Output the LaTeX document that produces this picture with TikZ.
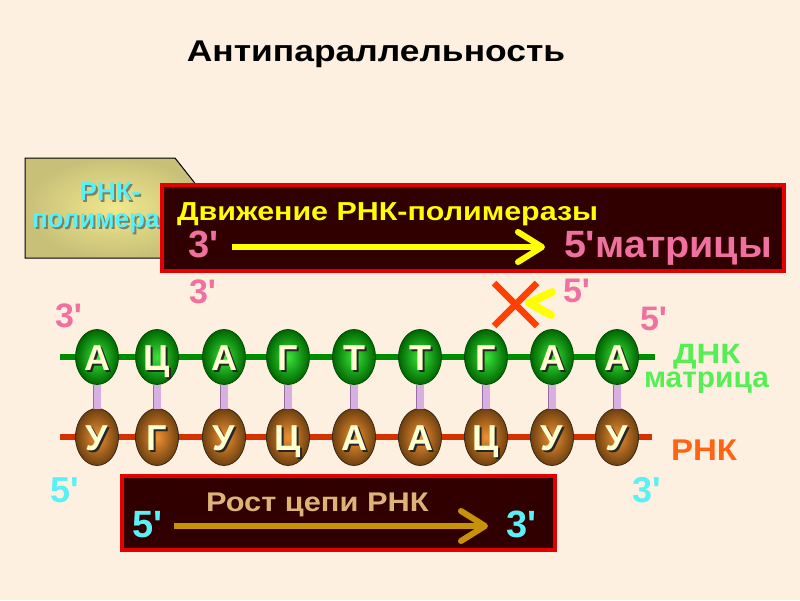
\documentclass[tikz,border=0pt]{standalone}
\usepackage{fontspec}
\newfontfamily\af{Liberation Sans}
\usetikzlibrary{arrows.meta,shapes.geometric}
\definecolor{bg}{RGB}{253,240,224}
\definecolor{pinkl}{RGB}{240,112,160}
\definecolor{cyanl}{RGB}{90,240,245}
\definecolor{yel}{RGB}{255,255,0}
\definecolor{gold}{RGB}{200,145,10}
\definecolor{tan}{RGB}{220,180,120}
\definecolor{boxred}{RGB}{228,0,0}
\definecolor{boxfill}{RGB}{48,0,0}
\definecolor{dnaline}{RGB}{0,140,0}
\definecolor{rnaline}{RGB}{210,50,0}
\definecolor{dnk}{RGB}{85,238,85}
\definecolor{rnk}{RGB}{255,100,20}
\definecolor{cream}{RGB}{255,255,210}
\definecolor{lav}{RGB}{215,175,225}
\definecolor{lavd}{RGB}{150,110,160}
\definecolor{xred}{RGB}{255,64,0}
\definecolor{khaki}{RGB}{200,192,120}
\definecolor{khakil}{RGB}{240,232,140}
\definecolor{cshadow}{RGB}{120,130,100}
\newcommand\fsz[1]{\fontsize{#1}{#1}\selectfont}
\newcommand\wide[2]{\scalebox{#1}[1]{#2}}
\begin{document}
\begin{tikzpicture}[x=1pt,y=-1pt,
  every node/.style={inner sep=0pt,outer sep=0pt},
  lbl/.style={anchor=base west,font=\af\bfseries\fsz{#1}},
  lbl/.default=34,
  darkbox/.style={draw=boxred,line width=4pt,fill=boxfill},
  dnab/.style={ellipse,minimum width=43pt,minimum height=55pt,draw=black!70!green,line width=0.8pt,inner color=green!75!white!90!black,outer color=green!40!black},
  rnab/.style={ellipse,minimum width=43pt,minimum height=57pt,draw=black!70!brown,line width=0.8pt,inner color={rgb,255:red,240;green,145;blue,50},outer color={rgb,255:red,110;green,65;blue,15}},
  base/.style={anchor=base,font=\af\bfseries\fsz{36}},
  bond/.style={line width=7pt,draw=lav,preaction={draw=lavd,line width=8.6pt}},
  strand/.style={line width=6pt},
  ytip/.style={-{Straight Barb[length=24pt,width=30pt,round]}}
]
\useasboundingbox (0,0) rectangle (800,600);
\fill[bg] (0,0) rectangle (800,600);

% title
\node[anchor=base,font=\af\bfseries\fsz{30}] (title) at (376,61) {\wide{1.18}{Антипараллельность}};

% RNA polymerase block
\draw[black,line width=1pt,inner color=khakil,outer color=khaki] (25,158) -- (175,158) -- (205,196) -- (205,258) -- (25,258) -- cycle;
\node[anchor=base,font=\af\bfseries\fsz{26},text=cshadow] at (112,202) {РНК-};
\node[anchor=base,font=\af\bfseries\fsz{26},text=cyanl] (pol1) at (110,200) {РНК-};
\node[anchor=base west,font=\af\bfseries\fsz{26},text=cshadow] at (34,229) {полимераза};
\node[anchor=base west,font=\af\bfseries\fsz{26},text=cyanl] (pol2) at (32,227) {полимераза};

% pink labels partly under the box
\node[lbl,text=pinkl] (p3b) at (189,303) {3'};
\node[lbl,text=pinkl] (p5b) at (563,302) {5'};

% movement box
\node[darkbox,anchor=north west,minimum width=622pt,minimum height=86pt] (mbox) at (162,185) {};
\node[lbl=26,text=yel] (mtitle) at (177,220) {\wide{1.17}{Движение РНК-полимеразы}};
\node[lbl=38,text=pinkl] (m3) at (188,257) {3'};
\node[lbl=38,text=pinkl] (m5) at (564,257) {\wide{1.04}{5'матрицы}};
\coordinate (ya) at (232,247);
\coordinate (yb) at (545,247);
\draw[ytip,draw=yel,line width=6pt] (ya) -- (yb);

% X and small chevron
\coordinate (xa) at (494,283); \coordinate (xb) at (537,326);
\coordinate (xc) at (537,283); \coordinate (xd) at (494,326);
\draw[xred,line width=6.5pt] (xa) -- (xb);
\draw[xred,line width=6.5pt] (xc) -- (xd);
\coordinate (ca) at (552,292); \coordinate (cb) at (529,303); \coordinate (cc) at (551,315);
\draw[yel,line width=8pt,line cap=round,line join=round] (ca) -- (cb) -- (cc);

% end labels
\node[lbl,text=pinkl] (l3) at (55,327) {3'};
\node[lbl,text=pinkl] (r5) at (640,330) {5'};

% strands
\coordinate (gl) at (60,357); \coordinate (gr) at (655,357);
\coordinate (rl) at (60,437); \coordinate (rr) at (652,437);
\draw[strand,dnaline] (gl) -- (gr);
\draw[strand,rnaline] (rl) -- (rr);

\foreach \x/\a/\b [count=\i] in {97/А/У,157/Ц/Г,224/А/У,288/Г/Ц,354/Т/А,420/Т/А,486/Г/Ц,552/А/У,617/А/У}{
  \node[dnab] (d\i) at (\x,357) {};
  \node[rnab] (r\i) at (\x,437) {};
  \draw[bond] (d\i.south) -- (r\i.north);
  \node[base,text=black!85] at (\x+2,372) {\a};
  \node[base,text=cream] (da\i) at (\x,370) {\a};
  \node[base,text=black!85] at (\x+2,452) {\b};
  \node[base,text=cream] (rb\i) at (\x,450) {\b};
}

\node[lbl=28,text=dnk] (dnk1) at (673,363) {\wide{1.18}{ДНК}};
\node[lbl=29,text=dnk] (dnk2) at (644,387) {\wide{1.03}{матрица}};
\node[lbl=30,text=rnk] (rnk) at (671,460) {\wide{1.1}{РНК}};

\node[lbl=36,text=cyanl] (c5) at (50,502) {5'};
\node[lbl=36,text=cyanl] (c3) at (632,502) {3'};

% growth box
\node[darkbox,anchor=north west,minimum width=433pt,minimum height=74pt] (gbox) at (122,476) {};
\node[lbl=27,text=tan] (gtitle) at (206,511) {\wide{1.14}{Рост цепи РНК}};
\node[lbl=38,text=cyanl] (g5) at (132,537) {5'};
\node[lbl=38,text=cyanl] (g3) at (506,537) {3'};
\coordinate (ga) at (174,526);
\coordinate (gb) at (488,526);
\draw[ytip,draw=gold,line width=6pt] (ga) -- (gb);
\end{tikzpicture}
\end{document}
